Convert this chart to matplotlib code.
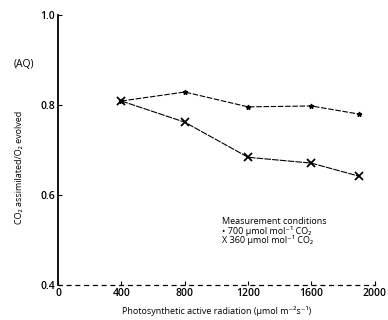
import matplotlib
matplotlib.use('Agg')
import matplotlib.pyplot as plt

plt.rcParams['font.family'] = ['Open Sans', 'DejaVu Sans']

# light level (umol m-2 s-1)
par = [400, 800, 1200, 1600, 1900]
aq_700 = [0.809, 0.829, 0.796, 0.798, 0.780]
aq_360 = [0.809, 0.762, 0.684, 0.671, 0.642]
xticks = [0, 400, 800, 1200, 1600, 2000]
yticks = [0.4, 0.6, 0.8, 1.0]

fig = plt.figure(figsize=(3.88, 3.2), dpi=100)
ax = fig.add_axes([0.1495, 0.109, 0.8165, 0.844])

ax.plot(par, aq_700, color='black', lw=0.8, ls=(0, (5, 1.5)),
        marker='*', ms=3.5)
ax.plot(par, aq_360, color='black', lw=0.8, ls=(0, (6, 1)),
        marker='x', ms=6, mew=1.3)

ax.set_xlim(0, 2000)
ax.set_ylim(0.4, 1.0)
ax.set_xticks(xticks)
ax.set_yticks(yticks)
ax.set_yticklabels([f'{v:.1f}' for v in yticks])
ax.tick_params(direction='in', length=3, width=0.8, labelsize=7.5, pad=2,
               colors='black')
for lab in ax.get_xticklabels() + ax.get_yticklabels():
    lab.set_fontweight('semibold')

for s in ['top', 'right']:
    ax.spines[s].set_visible(False)
ax.spines['left'].set_linewidth(1.3)
ax.spines['bottom'].set_linewidth(0.9)
ax.spines['bottom'].set_linestyle((0, (3, 4)))

ax.set_xlabel('Photosynthetic active radiation (\u03bcmol m\u207b\u00b2s\u207b\u00b9)',
              fontsize=6.5, labelpad=5)
fig.text(0.05, 0.478, 'CO\u2082 assimilated/O\u2082 evolved', rotation=90,
         fontsize=6.5, ha='center', va='center')
fig.text(0.062, 0.797, '(AQ)', fontsize=7.5, ha='center', va='center')

fig.text(0.573, 0.309, 'Measurement conditions', fontsize=6.5, va='center')
fig.text(0.573, 0.278, '\u2022 700 \u03bcmol mol\u207b\u00b9 CO\u2082', fontsize=6.5,
         va='center')
fig.text(0.573, 0.250, 'X 360 \u03bcmol mol\u207b\u00b9 CO\u2082', fontsize=6.5,
         va='center')

fig.savefig('out.png', dpi=100)
